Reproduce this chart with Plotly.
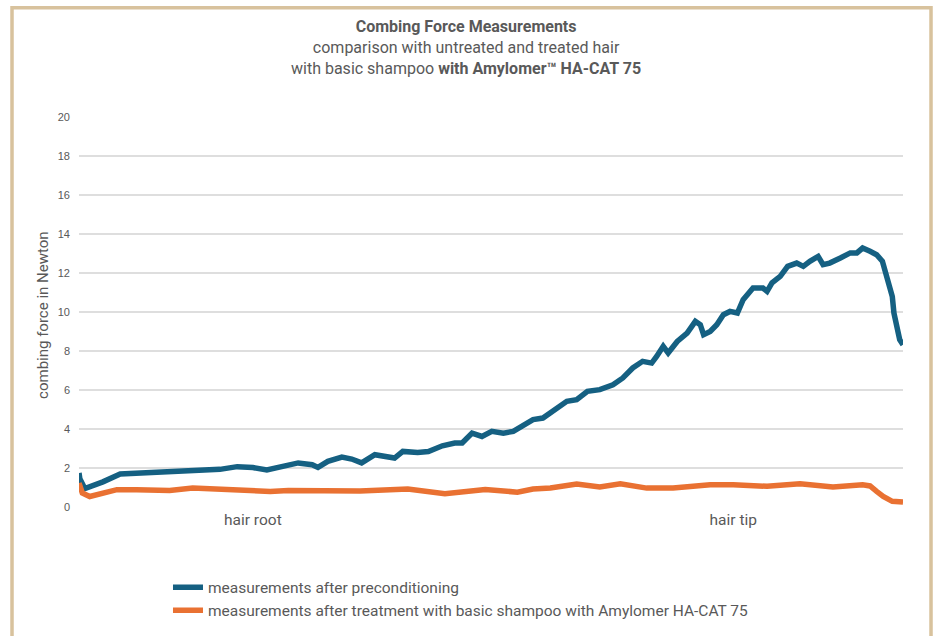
import plotly.graph_objects as go

# position along the hair strand (% of measured length)
pre_pos = [0.0, 0.1, 0.7, 1.3, 2.9, 5.0, 7.0, 9.0, 11.0, 13.1, 15.0, 17.1, 19.2, 21.1, 22.8, 24.0,
           25.4, 26.6, 28.3, 29.0, 30.2, 31.9, 33.1, 34.3, 35.9, 37.1, 38.3, 39.3, 41.1, 42.4,
           44.1, 45.6, 46.5, 47.7, 48.9, 50.1, 51.5, 52.7, 53.9, 55.1, 56.3, 57.5, 59.2, 60.4,
           61.7, 63.2, 64.8, 66.0, 67.2, 68.4, 69.5, 70.1, 70.9, 71.5, 72.6, 73.8, 74.8, 75.4,
           75.8, 76.6, 77.4, 78.2, 79.0, 79.9, 80.6, 81.8, 83.0, 83.5, 84.1, 85.1, 86.0, 87.1,
           87.9, 88.7, 89.7, 90.3, 91.1, 92.4, 93.6, 94.4, 95.1, 96.0, 96.8, 97.5, 98.1, 98.7,
           98.9, 99.3, 99.6, 100.0]
# combing force after preconditioning (N)
pre_force = [1.75, 1.45, 0.95, 1.03, 1.29, 1.69, 1.73, 1.76, 1.81, 1.86, 1.86, 1.93, 2.07, 2.02, 1.90, 2.02,
             2.15, 2.26, 2.17, 2.03, 2.34, 2.56, 2.46, 2.26, 2.68, 2.59, 2.51, 2.85, 2.80, 2.85,
             3.14, 3.28, 3.28, 3.79, 3.62, 3.88, 3.79, 3.88, 4.17, 4.48, 4.56, 4.90, 5.42, 5.50,
             5.93, 6.02, 6.27, 6.62, 7.13, 7.47, 7.38, 7.72, 8.24, 7.90, 8.49, 8.92, 9.52, 9.35,
             8.84, 9.00, 9.35, 9.86, 10.03, 9.95, 10.63, 11.23, 11.23, 11.06, 11.49, 11.83, 12.34, 12.51,
             12.34, 12.60, 12.85, 12.43, 12.51, 12.77, 13.03, 13.03, 13.28, 13.11, 12.94, 12.60, 11.74, 10.80,
             9.95, 8.92, 8.58, 8.32]

treat_pos = [0.0, 0.4, 1.3, 2.9, 4.6, 7.0, 9.2, 11.0, 13.8, 17.1, 21.1, 23.2, 25.4, 29.2, 34.1, 39.9,
             44.4, 49.3, 51.5, 53.2, 55.1, 57.2, 60.4, 63.2, 65.7, 68.9, 72.1, 73.8, 76.6, 79.4,
             83.5, 87.5, 91.5, 95.1, 96.0, 96.8, 97.6, 98.7, 99.6, 100.0]
# combing force after treatment with basic shampoo with Amylomer HA-CAT 75 (N)
treat_force = [1.23, 0.72, 0.54, 0.68, 0.89, 0.89, 0.86, 0.85, 0.97, 0.89, 0.85, 0.80, 0.85, 0.85, 0.82, 0.92,
               0.68, 0.90, 0.82, 0.76, 0.92, 0.97, 1.18, 1.03, 1.19, 0.97, 0.98, 1.06, 1.14, 1.14,
               1.06, 1.19, 1.03, 1.14, 1.08, 0.80, 0.54, 0.29, 0.29, 0.25]

x_tick_vals = [21.1, 79.4]
x_tick_text = ["hair root", "hair tip"]
y_ticks = [0, 2, 4, 6, 8, 10, 12, 14, 16, 18, 20]

series_names = ["measurements after preconditioning",
                "measurements after treatment with basic shampoo with Amylomer HA-CAT 75"]

BLUE = "#156082"
ORANGE = "#E97132"
GREY = "#595959"
FONT = "Roboto, Liberation Sans, sans-serif"

fig = go.Figure()
fig.add_trace(go.Scatter(x=pre_pos, y=pre_force, mode="lines", name=series_names[0],
                         legendgroup="a", line=dict(color=BLUE, width=5.5)))
fig.add_trace(go.Scatter(x=treat_pos, y=treat_force, mode="lines", name=series_names[1],
                         legendgroup="b", line=dict(color=ORANGE, width=5.5)))

fig.update_layout(
    width=933, height=636,
    margin=dict(l=79, r=30, t=117, b=129, autoexpand=False),
    paper_bgcolor="white", plot_bgcolor="white",
    font=dict(family=FONT, color=GREY),
    showlegend=True,
    legend=dict(orientation="v", x=0.108, xanchor="left", y=-0.163, yanchor="top",
                font=dict(size=15.5, color=GREY), bgcolor="rgba(0,0,0,0)", itemwidth=30,
                tracegroupgap=0),
    xaxis=dict(range=[0, 100], tickmode="array", tickvals=x_tick_vals, ticktext=x_tick_text,
               showgrid=False, zeroline=False, showline=False, ticks="", automargin=False,
               tickfont=dict(size=15.5, color=GREY, family=FONT), ticklabelstandoff=1),
    yaxis=dict(range=[0, 20], tickmode="array", tickvals=y_ticks, showgrid=True, automargin=False,
               gridcolor="#DEDEDE", gridwidth=1.5, zeroline=False, showline=False, ticks="",
               tickfont=dict(size=11, color=GREY, family="Liberation Sans, Arial, sans-serif"),
               ticklabelstandoff=8),
    shapes=[dict(type="rect", xref="paper", yref="paper", x0=-0.0813, x1=1.034, y0=-0.36, y1=1.280,
                 line=dict(color="#D8C29D", width=3.5), fillcolor="rgba(0,0,0,0)", layer="below")],
    annotations=[
        dict(text="<b>Combing Force Measurements</b><br>comparison with untreated and treated hair"
                  "<br>with basic shampoo <b>with Amylomer™ HA-CAT 75</b>",
             xref="paper", yref="paper", x=0.4697, y=(507 - 15) / 390, xanchor="center", yanchor="top",
             showarrow=False, font=dict(size=16, color=GREY, family=FONT), align="center"),
        dict(text="combing force in Newton", xref="paper", yref="paper", x=(43 - 79) / 824, y=0.49,
             xanchor="center", yanchor="middle", textangle=-90, showarrow=False,
             font=dict(size=15, color=GREY, family=FONT)),
    ],
)

fig.write_html("out.html", config={"displayModeBar": False},
               post_script="document.body.style.margin='0px';")
